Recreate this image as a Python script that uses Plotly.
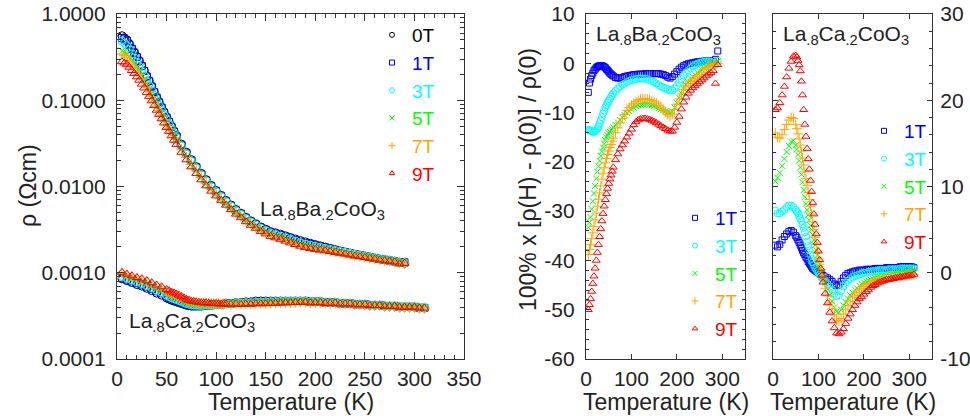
import plotly.graph_objects as go

# ---------------- data ----------------
T_BA = [5, 7.5, 10, 12.5, 15, 17.5, 20, 22.5, 25, 27.5,
        30, 32.5, 35, 37.5, 40, 42.5, 45, 47.5, 50, 52.5,
        55, 57.5, 60,
        65, 70, 75, 80, 85, 90, 95, 100,
        105, 110, 115, 120, 125, 130, 135, 140, 145, 150,
        155, 160, 165, 170, 175, 180, 185, 190, 195, 200,
        205, 210, 215, 220, 225, 230, 235, 240, 245, 250,
        255, 260, 265, 270, 275, 280, 285, 290]

# zero-field resistivity of La.8Ba.2CoO3 (Ohm cm)
RHO0_BA = [0.56, 0.53, 0.50, 0.45, 0.40, 0.36, 0.32, 0.285, 0.25, 0.22,
           0.19, 0.167, 0.145, 0.125, 0.108, 0.095, 0.083, 0.073, 0.064, 0.057,
           0.050, 0.044, 0.039,
           0.031, 0.025, 0.0205, 0.0170, 0.0142, 0.0120, 0.0103, 0.0090,
           0.0079, 0.0069, 0.0061, 0.0054, 0.0049, 0.0044, 0.0040, 0.0037, 0.0034, 0.0032,
           0.0030, 0.0029, 0.0028, 0.00268, 0.00256, 0.00246, 0.00236, 0.00228, 0.00220, 0.00212,
           0.00205, 0.00198, 0.00191, 0.00185, 0.00179, 0.00174, 0.00169, 0.00164, 0.00160, 0.00156,
           0.00152, 0.00148, 0.00144, 0.00141, 0.00138, 0.00135, 0.00132, 0.00129]

# magnetoresistance of La.8Ba.2CoO3 (%)
MR_BA_1T = [-5.9, -4.0, -3.2, -2.5, -2.0, -1.5, -1.2, -0.9, -0.7, -0.6,
            -0.5, -0.5, -0.5, -0.6, -0.7, -0.9, -1.2, -1.4, -1.7, -2.0,
            -2.2, -2.4, -2.6,
            -2.9, -3.0, -3.0, -2.9, -2.7, -2.6, -2.5, -2.4,
            -2.3, -2.3, -2.2, -2.2, -2.2, -2.1, -2.1, -2.1, -2.1, -2.1,
            -2.1, -2.1, -2.2, -2.3, -2.5, -2.8, -3.0, -2.7, -2.2, -1.7,
            -1.2, -0.8, -0.5, -0.3, -0.1, 0.0, 0.1, 0.2, 0.3, 0.3,
            0.4, 0.4, 0.5, 0.5, 0.4, 0.4, 0.8, 2.5]
MR_BA_3T = [-13.5, -13.6, -13.7, -13.8, -13.9, -13.9, -13.8, -13.6, -13.2, -12.8,
            -12.2, -11.6, -10.9, -10.2, -9.6, -9.0, -8.5, -8.0, -7.6, -7.2,
            -6.8, -6.4, -6.1,
            -5.6, -5.1, -4.7, -4.4, -4.1, -3.8, -3.6, -3.4,
            -3.3, -3.2, -3.1, -3.1, -3.1, -3.1, -3.2, -3.4, -3.6, -3.8,
            -4.1, -4.4, -4.7, -4.9, -5.1, -5.3, -5.5, -5.5, -5.1, -4.5,
            -3.9, -3.2, -2.5, -1.9, -1.4, -1.0, -0.6, -0.3, -0.1, 0.1,
            0.2, 0.3, 0.4, 0.4, 0.3, 0.1, -0.3, 0.5]
MR_BA_5T = [-33.3, -32.3, -31.2, -29.6, -28.0, -26.4, -24.9, -23.4, -22.0, -20.9,
            -19.8, -18.8, -17.9, -17.1, -16.3, -15.6, -15.0, -14.6, -14.2, -13.9,
            -13.6, -13.3, -13.0,
            -12.5, -12.0, -11.5, -11.0, -10.5, -10.1, -9.7, -9.3,
            -9.0, -8.7, -8.5, -8.4, -8.3, -8.3, -8.3, -8.4, -8.5, -8.7,
            -8.9, -9.1, -9.3, -9.5, -9.7, -9.9, -10.0, -9.8, -9.0, -8.0,
            -7.0, -6.1, -5.2, -4.4, -3.8, -3.2, -2.7, -2.3, -1.9, -1.6,
            -1.3, -1.0, -0.7, -0.4, -0.2, 0.0, 0.2, 0.4]
MR_BA_7T = [-38.8, -37.8, -36.8, -35.6, -34.4, -33.1, -31.8, -30.4, -29.0, -27.6,
            -26.3, -24.9, -23.5, -22.3, -21.2, -20.2, -19.3, -18.5, -17.8, -17.1,
            -16.5, -15.8, -15.2,
            -14.1, -13.1, -12.1, -11.2, -10.4, -9.6, -9.0, -8.5,
            -8.1, -7.8, -7.5, -7.3, -7.2, -7.2, -7.3, -7.4, -7.6, -7.8,
            -8.1, -8.5, -8.9, -9.4, -9.9, -10.4, -10.7, -10.3, -9.4, -8.3,
            -7.2, -6.2, -5.3, -4.6, -4.1, -3.7, -3.4, -3.1, -2.7, -2.3,
            -1.8, -1.3, -0.9, -0.6, -0.4, -0.3, -0.1, 0.0]
MR_BA_9T = [-50.0, -49.0, -47.8, -46.3, -44.7, -43.2, -41.6, -40.0, -38.4, -36.8,
            -35.2, -33.6, -32.0, -30.5, -29.0, -27.7, -26.5, -25.4, -24.4, -23.5,
            -22.7, -21.9, -21.1,
            -19.6, -18.4, -17.4, -16.6, -15.8, -15.0, -14.2, -13.4,
            -12.5, -11.9, -11.5, -11.3, -11.2, -11.2, -11.3, -11.4, -11.6, -11.8,
            -12.1, -12.4, -12.7, -13.0, -13.3, -13.6, -13.8, -13.8, -13.0, -12.0,
            -10.8, -9.3, -7.9, -6.9, -6.1, -5.5, -5.0, -4.6, -4.2, -3.8,
            -3.4, -3.0, -2.6, -2.2, -1.9, -1.5, -4.1, -0.3]

T_CA = [5, 10, 15, 20, 25, 30, 35, 40, 45, 50,
        52.5, 55, 57.5, 60, 62.5, 65, 67.5, 70, 72.5, 75, 77.5, 80,
        82.5, 85, 87.5, 90, 92.5, 95, 97.5, 100, 102.5, 105, 107.5, 110,
        115, 120, 125, 130, 135, 140, 145, 150,
        155, 160, 165, 170, 175, 180, 185, 190, 195, 200,
        205, 210, 215, 220, 225, 230, 235, 240, 245, 250,
        255, 260, 265, 270, 275, 280, 285, 290, 295, 300,
        305, 310]

# zero-field resistivity of La.8Ca.2CoO3 (Ohm cm)
RHO0_CA = [0.00085, 0.00081, 0.00077, 0.00073, 0.00070, 0.00066, 0.00062, 0.00058, 0.00055, 0.00051,
           0.000495, 0.00048, 0.00047, 0.00046, 0.00045, 0.00044, 0.00043, 0.00042, 0.000415, 0.00041,
           0.00041, 0.00041,
           0.00041, 0.00041, 0.000415, 0.00042, 0.00042, 0.00042, 0.000425, 0.00043, 0.00043, 0.00043,
           0.000435, 0.00044,
           0.00044, 0.00045, 0.00045, 0.00046, 0.00046, 0.00047, 0.00047, 0.00047,
           0.00047, 0.00047, 0.00047, 0.00047, 0.00047, 0.00047, 0.00047, 0.00047, 0.00046, 0.00046,
           0.00046, 0.00045, 0.00045, 0.00045, 0.00044, 0.00044, 0.00044, 0.00043, 0.00043, 0.00043,
           0.00042, 0.00042, 0.00042, 0.00041, 0.00041, 0.00041, 0.00040, 0.00040, 0.00040, 0.00040,
           0.00039, 0.00039]

# magnetoresistance of La.8Ca.2CoO3 (%)
MR_CA_1T = [3.2, 3.0, 3.3, 3.8, 4.2, 4.5, 4.8, 4.9, 4.7, 4.3,
            4.1, 3.8, 3.5, 3.2, 2.9, 2.6, 2.3, 2.1, 1.8, 1.6, 1.3, 1.1,
            0.9, 0.7, 0.5, 0.4, 0.3, 0.2, 0.1, 0.0, -0.1, -0.2, -0.25, -0.3,
            -0.5, -0.6, -0.8, -1.0, -1.3, -1.5, -1.4, -1.0,
            -0.6, -0.3, -0.1, 0.0, 0.1, 0.2, 0.2, 0.3, 0.3, 0.3,
            0.4, 0.4, 0.4, 0.4, 0.5, 0.5, 0.5, 0.5, 0.5, 0.6,
            0.6, 0.6, 0.6, 0.6, 0.6, 0.7, 0.7, 0.7, 0.7, 0.7,
            0.7, 0.6]
MR_CA_3T = [7.2, 6.9, 6.9, 7.1, 7.3, 7.6, 7.8, 7.8, 7.6, 7.3,
            7.1, 6.9, 6.6, 6.3, 6.0, 5.6, 5.2, 4.7, 4.2, 3.6, 3.1, 2.6,
            2.1, 1.6, 1.2, 0.9, 0.6, 0.4, 0.2, 0.0, -0.2, -0.4, -0.55, -0.7,
            -1.0, -1.3, -1.6, -2.0, -2.4, -2.7, -2.6, -2.1,
            -1.6, -1.2, -0.9, -0.7, -0.5, -0.4, -0.3, -0.2, -0.1, 0.0,
            0.0, 0.1, 0.1, 0.2, 0.2, 0.2, 0.3, 0.3, 0.3, 0.3,
            0.4, 0.4, 0.4, 0.4, 0.4, 0.5, 0.5, 0.5, 0.5, 0.5,
            0.5, 0.5]
MR_CA_5T = [10.6, 11.0, 11.6, 12.4, 13.2, 14.0, 14.7, 15.2, 15.3, 14.8,
            14.3, 13.7, 13.0, 12.2, 11.4, 10.5, 9.6, 8.8, 8.0, 7.3, 6.7, 6.1,
            5.5, 5.0, 4.4, 3.8, 3.2, 2.6, 2.0, 1.5, 1.0, 0.5, 0.0, -0.4,
            -1.2, -1.9, -2.6, -3.3, -4.0, -4.5, -4.6, -4.3,
            -3.8, -3.4, -3.0, -2.6, -2.3, -2.0, -1.8, -1.5, -1.3, -1.1,
            -1.0, -0.9, -0.8, -0.7, -0.6, -0.5, -0.5, -0.4, -0.4, -0.3,
            -0.3, -0.2, -0.2, -0.1, -0.1, 0.0, 0.0, 0.1, 0.1, 0.1,
            0.2, 0.2]
MR_CA_7T = [16.2, 15.7, 15.6, 16.0, 16.6, 17.2, 17.7, 18.0, 17.9, 17.2,
            16.7, 16.1, 15.5, 14.8, 14.1, 13.3, 12.5, 11.7, 10.9, 10.1, 9.3, 8.5,
            7.7, 6.8, 5.9, 5.0, 4.1, 3.3, 2.5, 1.7, 1.0, 0.4, -0.2, -0.8,
            -1.8, -2.7, -3.5, -4.2, -4.9, -5.5, -5.6, -5.3,
            -4.8, -4.3, -3.8, -3.3, -2.9, -2.6, -2.3, -2.0, -1.8, -1.6,
            -1.4, -1.3, -1.2, -1.0, -0.9, -0.8, -0.7, -0.7, -0.6, -0.6,
            -0.5, -0.5, -0.5, -0.4, -0.4, -0.4, -0.3, -0.3, -0.3, -0.2,
            -0.2, -0.2]
MR_CA_9T = [18.9, 19.1, 19.7, 20.6, 21.6, 22.7, 23.7, 24.5, 25.1, 25.2,
            25.0, 24.6, 24.1, 23.4, 22.2, 20.6, 18.9, 17.2, 15.8, 14.4, 13.2, 12.0,
            10.7, 9.4, 8.1, 6.8, 5.6, 4.5, 3.5, 2.5, 1.5, 0.5, -0.3, -1.1,
            -2.4, -3.5, -4.6, -5.6, -6.4, -7.0, -7.1, -6.9,
            -6.5, -5.9, -5.3, -4.8, -4.3, -3.8, -3.4, -3.0, -2.8, -2.5,
            -2.2, -2.0, -1.7, -1.5, -1.4, -1.2, -1.1, -1.0, -0.9, -0.8,
            -0.8, -0.7, -0.7, -0.6, -0.6, -0.5, -0.5, -0.4, -0.4, -0.3,
            -0.3, -0.2]

FIELDS = ["0T", "1T", "3T", "5T", "7T", "9T"]

# tick labels of the two magnetoresistance panels (plain hyphen minus, as in the figure)
MR_BA_TICKVALS = [-60, -50, -40, -30, -20, -10, 0, 10]
MR_BA_TICKTEXT = ["-60", "-50", "-40", "-30", "-20", "-10", "0", "10"]
MR_CA_TICKVALS = [-10, 0, 10, 20, 30]
MR_CA_TICKTEXT = ["-10", "0", "10", "20", "30"]

# ---------------- styling ----------------
FONT = "Liberation Sans, Arial, Helvetica, sans-serif"
TXT = "#222222"
AX = "#333333"
COLORS = {"0T": "#000000", "1T": "#0000ff", "3T": "#00ffff",
          "5T": "#00ff00", "7T": "#ffa500", "9T": "#ff0000"}
SYMBOLS = {"0T": "circle-open", "1T": "square-open", "3T": "circle-open",
           "5T": "x-thin-open", "7T": "cross-thin-open", "9T": "triangle-up-open"}
SIZES = {"0T": 8, "1T": 7, "3T": 8, "5T": 7, "7T": 8, "9T": 8}

MR_BA = {"1T": MR_BA_1T, "3T": MR_BA_3T, "5T": MR_BA_5T, "7T": MR_BA_7T, "9T": MR_BA_9T}
MR_CA = {"1T": MR_CA_1T, "3T": MR_CA_3T, "5T": MR_CA_5T, "7T": MR_CA_7T, "9T": MR_CA_9T}


def rho_in_field(rho0, mr):
    if mr is None:
        return list(rho0)
    return [r * (1.0 + m / 100.0) for r, m in zip(rho0, mr)]


def mk(color, symbol, size):
    return dict(color=color, symbol=symbol, size=size, line=dict(color=color, width=1))


fig = go.Figure()

# ---- panel 1: resistivity ----
for f in FIELDS:
    for T, rho0, mrs in ((T_BA, RHO0_BA, MR_BA), (T_CA, RHO0_CA, MR_CA)):
        fig.add_trace(go.Scatter(
            x=T, y=rho_in_field(rho0, mrs.get(f)), mode="markers",
            marker=mk(COLORS[f], SYMBOLS[f], SIZES[f]),
            xaxis="x", yaxis="y", showlegend=False, hoverinfo="skip"))

# ---- panel 2: MR of Ba compound ----
for f in FIELDS[1:]:
    fig.add_trace(go.Scatter(
        x=T_BA, y=MR_BA[f], mode="markers",
        marker=mk(COLORS[f], SYMBOLS[f], SIZES[f] - 1),
        xaxis="x2", yaxis="y2", showlegend=False, hoverinfo="skip"))

# ---- panel 3: MR of Ca compound ----
for f in FIELDS[1:]:
    fig.add_trace(go.Scatter(
        x=T_CA, y=MR_CA[f], mode="markers",
        marker=mk(COLORS[f], SYMBOLS[f], SIZES[f] - 1),
        xaxis="x3", yaxis="y3", showlegend=False, hoverinfo="skip"))

# ---- legends (symbol keys) ----
for lg, xa, ya, fields in (("legend", "x", "y", FIELDS),
                           ("legend2", "x2", "y2", FIELDS[1:]),
                           ("legend3", "x3", "y3", FIELDS[1:])):
    for f in fields:
        fig.add_trace(go.Scatter(
            x=[None], y=[None], mode="markers",
            marker=mk(COLORS[f], SYMBOLS[f], 5),
            name=f'<span style="color:{COLORS[f]}">{f}</span>',
            legend=lg, xaxis=xa, yaxis=ya, showlegend=True))

W, H = 970, 416
X1 = [117 / W, 464 / W]
X2 = [586 / W, 745 / W]
X3 = [773 / W, 932 / W]
YD = [1 - 359 / H, 1 - 14 / H]

tickfont = dict(family=FONT, size=21, color=TXT)


def axis(**kw):
    base = dict(showline=True, linecolor=AX, linewidth=1.3, mirror="allticks",
                ticks="inside", tickcolor=AX, tickwidth=1, showgrid=False,
                zeroline=False, tickfont=tickfont, automargin=False)
    base.update(kw)
    return base


legend_common = dict(bgcolor="rgba(0,0,0,0)", borderwidth=0,
                     font=dict(family=FONT, size=19, color=TXT),
                     xanchor="left", yanchor="top", tracegroupgap=0,
                     itemclick=False, itemdoubleclick=False)

fig.update_layout(
    template="none",
    width=W, height=H,
    margin=dict(l=0, r=0, t=0, b=0, pad=0, autoexpand=False),
    paper_bgcolor="white", plot_bgcolor="white",
    font=dict(family=FONT, size=21, color=TXT),
    xaxis=axis(domain=X1, anchor="y", range=[0, 350], tick0=0, dtick=50, ticklen=7,
               ticklabelstandoff=1,
               minor=dict(dtick=10, ticks="inside", ticklen=4, tickcolor=AX, showgrid=False)),
    yaxis=axis(domain=YD, anchor="x", type="log", range=[-4, 0], dtick=1,
               tickformat=".4f", ticklen=7, ticklabelstandoff=6,
               minor=dict(dtick="D1", ticks="inside", ticklen=4, tickcolor=AX, showgrid=False)),
    xaxis2=axis(domain=X2, anchor="y2", range=[0, 350], tick0=0, dtick=100, ticklen=5,
                ticklabelstandoff=1),
    yaxis2=axis(domain=YD, anchor="x2", range=[-60, 10], tickmode="array",
                tickvals=MR_BA_TICKVALS, ticktext=MR_BA_TICKTEXT, ticklen=5,
                ticklabelstandoff=6,
                minor=dict(tickmode="linear", tick0=0, dtick=2, ticks="inside", ticklen=2.5,
                           tickcolor=AX, showgrid=False)),
    xaxis3=axis(domain=X3, anchor="y3", range=[0, 350], tick0=0, dtick=100, ticklen=5,
                ticklabelstandoff=1),
    yaxis3=axis(domain=YD, anchor="x3", side="right", range=[-10, 30], tickmode="array",
                tickvals=MR_CA_TICKVALS, ticktext=MR_CA_TICKTEXT,
                ticklen=5, ticklabelstandoff=3,
                minor=dict(tickmode="linear", tick0=0, dtick=2, ticks="inside", ticklen=2.5,
                           tickcolor=AX, showgrid=False)),
    legend=dict(legend_common, x=372 / W, y=1 - 16 / H),
    legend2=dict(legend_common, x=675 / W, y=1 - 199 / H),
    legend3=dict(legend_common, x=864 / W, y=1 - 112 / H),
)

ann_font = dict(family=FONT, size=21, color=TXT)
title_font = dict(family=FONT, size=23, color=TXT)
annotations = [
    dict(text="ρ (Ωcm)", x=28 / W, y=1 - 186 / H, textangle=-90, font=title_font),
    dict(text="100% x [ρ(H) - ρ(0)] / ρ(0)", x=528 / W, y=1 - 180 / H, textangle=-90,
         font=title_font),
    dict(text="Temperature (K)", x=(X1[0] + X1[1]) / 2, y=1 - 402 / H, font=title_font),
    dict(text="Temperature (K)", x=(X2[0] + X2[1]) / 2, y=1 - 402 / H, font=title_font),
    dict(text="Temperature (K)", x=(X3[0] + X3[1]) / 2, y=1 - 402 / H, font=title_font),
    dict(text="La<sub>.8</sub>Ba<sub>.2</sub>CoO<sub>3</sub>", x=258 / W, y=1 - 210 / H, xanchor="left"),
    dict(text="La<sub>.8</sub>Ca<sub>.2</sub>CoO<sub>3</sub>", x=127 / W, y=1 - 322 / H, xanchor="left"),
    dict(text="La<sub>.8</sub>Ba<sub>.2</sub>CoO<sub>3</sub>", x=594 / W, y=1 - 35 / H, xanchor="left"),
    dict(text="La<sub>.8</sub>Ca<sub>.2</sub>CoO<sub>3</sub>", x=781 / W, y=1 - 35 / H, xanchor="left"),
]
for a in annotations:
    a.setdefault("xanchor", "center")
    a.setdefault("font", ann_font)
    a.update(xref="paper", yref="paper", yanchor="middle", showarrow=False)
fig.update_layout(annotations=annotations)

# the page's default 8px body margin would shift the 970x416 figure; remove it
fig.write_html("out.html", config={"displayModeBar": False},
               post_script="document.body.style.margin='0px';")
